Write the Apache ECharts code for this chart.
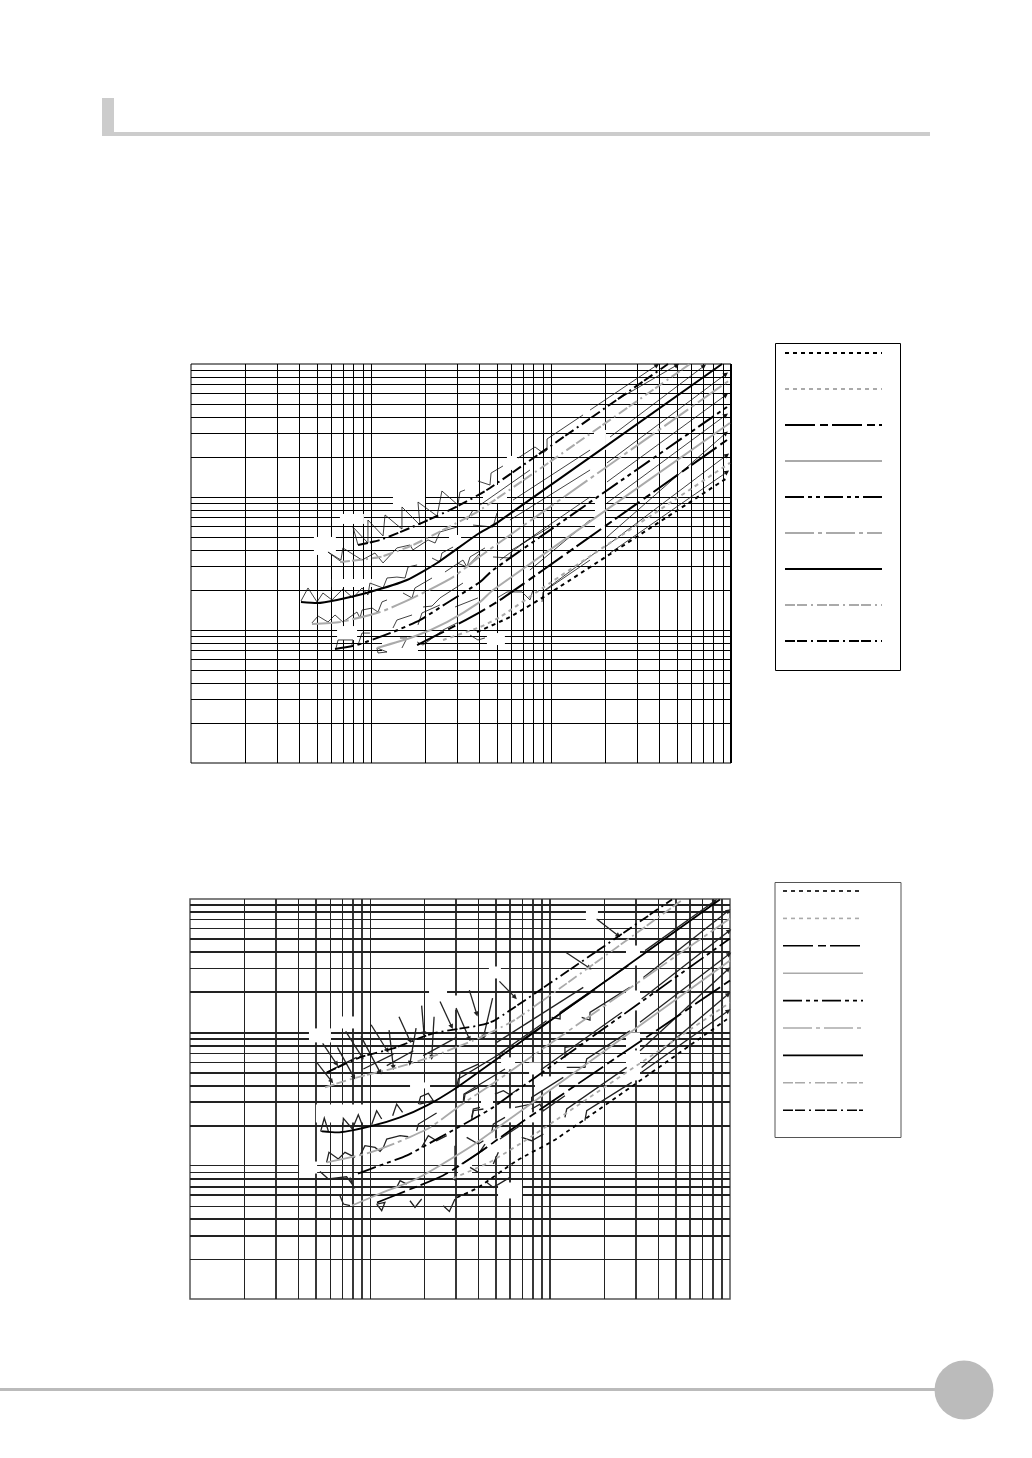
<!DOCTYPE html>
<html><head><meta charset="utf-8">
<style>html,body{margin:0;padding:0;background:#fff}#c{width:1032px;height:1458px}</style>
<script src="https://cdn.jsdelivr.net/npm/echarts@6/dist/echarts.min.js"></script>
</head><body><div id="c"></div>
<script>
// All curve values are [log10 x, log10 y]; both axes span three decades.
const decadeTicks = [2,3,4,5,6,7,8,9,10,20,30,40,50,60,70,80,90,100,200,300,400,500,600,700,800,900];
const thickX2 = [3,5,8,9,30,50,60,80,90,100,300,500,600,800,900];
const thickY2 = [900,800,500,400,200,100,90,80,50,40,30,20,8,7,6,4,3];

// Chart A curves, bottom to top
const a1 = [[1.589,.985],[1.772,1.098],[1.994,1.278],[2.978,2.143]];
const a2 = [[1.4,.925],[1.606,1.023],[1.717,1.098],[1.994,1.353],[2.994,2.256]];
const a3 = [[1.256,.887],[1.422,1.0],[1.606,1.135],[1.717,1.226],[1.956,1.451],[2.978,2.429]];
const a4 = [[1.033,.865],[1.233,.947],[1.422,1.06],[1.606,1.211],[1.678,1.301],[2.994,2.556]];
const a5 = [[.8,.857],[.922,.887],[1.122,.985],[1.272,1.075],[1.422,1.203],[1.606,1.361],[1.678,1.451],[2.978,2.677]];
const a6 = [[.672,1.045],[.828,1.06],[1.05,1.135],[1.233,1.241],[1.456,1.398],[1.594,1.541],[1.678,1.624],[2.994,2.88]];
const a7 = [[.611,1.211],[.7,1.203],[.811,1.226],[.994,1.286],[1.2,1.376],[1.367,1.504],[1.594,1.722],[1.7,1.805],[2.95,3.0]];
const a8 = [[.828,1.511],[1.05,1.549],[1.233,1.639],[1.422,1.767],[1.606,1.902],[2.772,3.0]];
const a9 = [[.928,1.639],[1.05,1.677],[1.217,1.767],[1.367,1.857],[1.494,1.94],[1.661,2.068],[2.65,3.0]];

// Chart B curves, bottom to top
const b1 = [[1.483,.761],[1.6,.836],[1.817,1.039],[2.039,1.204],[2.989,2.104]];
const b2 = [[1.461,.904],[1.6,.986],[1.683,1.039],[1.906,1.227],[3.0,2.224]];
const b3 = [[1.039,.724],[1.206,.814],[1.406,.926],[1.6,1.092],[1.833,1.317],[3.0,2.389]];
const b4 = [[.9,.701],[1.056,.791],[1.239,.889],[1.389,1.002],[1.594,1.174],[3.0,2.539]];
const b5 = [[.933,.941],[1.056,1.002],[1.206,1.077],[1.389,1.212],[1.6,1.37],[1.683,1.437],[3.0,2.704]];
const b6 = [[.761,1.024],[.983,1.092],[1.15,1.174],[1.333,1.287],[1.517,1.467],[1.683,1.617],[3.0,2.854]];
const b7 = [[.733,1.257],[.817,1.249],[1.0,1.294],[1.167,1.362],[1.317,1.452],[1.483,1.587],[1.6,1.699],[2.944,2.997]];
const b8 = [[.75,1.587],[.906,1.654],[1.15,1.737],[1.333,1.812],[1.6,1.954],[1.817,2.104],[2.739,2.997]];
const b9 = [[.761,1.699],[.944,1.812],[1.128,1.879],[1.35,1.992],[1.6,2.05],[1.694,2.09],[2.678,2.997]];

// Thin annotation strokes
const arrowsA = [
[[2.217,2.654],[2.589,2.992]],[[2.383,2.744],[2.7,2.992]],[[2.328,2.451],[2.85,2.985]],
[[2.311,2.256],[2.972,2.925]],[[2.311,2.113],[2.972,2.767]],[[2.311,1.955],[2.972,2.617]],
[[2.311,1.699],[2.972,2.481]],[[2.3,1.624],[2.978,2.316]],[[2.328,1.579],[2.978,2.188]]];
const leadersA = [
[[.928,1.639],[.9,1.774],[.983,1.654],[.983,1.827],[1.067,1.707],[1.078,1.865],[1.172,1.759],[1.172,1.925],[1.272,1.789],[1.261,1.962],[1.367,1.857],[1.394,2.045],[1.483,1.94],[1.494,2.038],[1.522,2.053]],
[[.844,1.504],[.761,1.586],[.833,1.526],[.844,1.617],[.95,1.526],[1.022,1.579],[1.067,1.504],[1.144,1.617],[1.217,1.639],[1.233,1.602],[1.317,1.677],[1.356,1.654],[1.383,1.737],[1.478,1.774]],
[[.611,1.218],[.65,1.316],[.7,1.211],[.733,1.278],[.783,1.226],[.844,1.308],[.9,1.241],[.95,1.316],[.983,1.263],[.994,1.353],[1.067,1.316],[1.089,1.391],[1.144,1.398],[1.189,1.391],[1.206,1.474],[1.256,1.489]],
[[1.339,1.541],[1.383,1.511],[1.394,1.579],[1.456,1.624]],
[[1.411,1.436],[1.511,1.526],[1.533,1.474],[1.606,1.579]],
[[.672,1.053],[.706,1.105],[.761,1.06],[.8,1.113],[.844,1.06],[.922,1.135],[.939,1.09],[.95,1.15],[1.006,1.165],[1.039,1.135],[1.061,1.211],[1.089,1.226]],
[[1.178,1.278],[1.228,1.241],[1.244,1.316],[1.339,1.391]],
[[.806,.865],[.817,.925],[.9,.925],[.894,.887]],
[[.928,.887],[.95,.977],[.994,.977]],
[[1.122,1.015],[1.144,1.075],[1.228,1.113]],
[[1.261,1.038],[1.283,1.128],[1.383,1.188]],
[[1.289,1.173],[1.339,1.18],[1.383,1.241],[1.511,1.353]],
[[1.467,1.173],[1.594,1.241]],
[[1.033,.865],[1.089,.835],[1.039,.827],[1.033,.865]],
[[1.161,.94],[1.2,.94],[1.172,.865]],
[[1.256,.91],[1.289,.887],[1.4,1.0],[1.478,1.053]],
[[1.55,.962],[1.594,.925],[1.633,.94]],
[[1.7,1.241],[1.756,1.286],[1.839,1.286],[1.883,1.226],[1.9,1.301]],
[[1.95,1.211],[1.956,1.286],[2.217,1.526]],
[[1.478,1.504],[1.533,1.474],[1.55,1.549],[1.633,1.617]],
[[1.678,1.549],[1.772,1.541],[1.783,1.602],[1.994,1.774]],
[[1.567,1.789],[1.678,1.774],[1.7,1.88]],
[[1.533,1.827],[1.567,1.902]],
[[1.594,2.12],[1.661,2.09],[1.667,2.18],[1.733,2.233]],
[[1.817,2.293],[1.911,2.376],[1.956,2.331],[1.978,2.353],[1.978,2.436],[2.178,2.617]],
[[1.789,1.977],[2.217,2.353]],[[1.772,1.827],[2.217,2.203]],[[1.828,1.639],[2.217,2.0]],
[[1.883,1.451],[2.217,1.827]],[[1.967,1.301],[2.244,1.579]],[[1.717,1.526],[1.911,1.714]],[[1.606,1.94],[1.883,2.203]]];
const arrowsB = [
[[.704,1.775],[.787,1.632]],[[.737,1.917],[.815,1.762]],[[.819,1.887],[.911,1.662]],[[.865,2.007],[.957,1.812]],
[[.95,1.97],[1.056,1.7]],[[1.006,2.057],[1.096,1.862]],[[1.106,2.017],[1.13,1.737]],[[1.161,2.117],[1.222,1.937]],
[[1.256,2.032],[1.222,1.767]],[[1.287,2.2],[1.3,1.987]],[[1.356,2.117],[1.343,1.812]],[[1.389,2.232],[1.454,2.042]],
[[1.478,2.182],[1.552,1.95]],[[1.552,2.317],[1.593,2.137]],[[1.681,2.257],[1.63,1.962]],[[1.719,2.382],[1.806,2.262]],
[[2.083,2.605],[2.219,2.482]],[[2.259,2.85],[2.38,2.725]],
[[2.528,2.613],[2.917,2.987]],[[2.519,2.412],[2.991,2.912]],[[2.509,2.25],[2.996,2.762]],[[2.5,2.075],[2.996,2.587]],
[[2.5,1.862],[2.991,2.475]],[[2.509,1.737],[2.991,2.287]],[[2.509,1.7],[2.991,2.162]]];
const leadersB = [
[[2.009,2.112],[2.056,2.1],[2.056,2.15],[2.435,2.5]],
[[2.176,2.112],[2.222,2.092],[2.222,2.15],[2.444,2.337]],
[[1.722,1.8],[1.722,1.842],[1.981,2.087]],
[[1.481,1.587],[1.491,1.65],[1.75,1.862]],
[[2.083,1.812],[2.083,1.887],[2.185,1.912]],
[[2.093,1.737],[2.194,1.737],[2.204,1.8],[2.444,2.012]],
[[1.519,1.487],[1.522,1.537],[1.75,1.725]],
[[1.565,1.35],[1.574,1.412],[1.63,1.425]],
[[1.694,1.537],[1.741,1.562],[1.778,1.532],[1.824,1.575]],
[[1.676,1.25],[1.685,1.312],[1.75,1.362]],
[[1.722,1.2],[1.833,1.3]],
[[1.806,1.437],[1.898,1.462],[1.898,1.512],[2.074,1.662]],
[[1.898,1.425],[1.944,1.462],[1.963,1.412],[2.083,1.525]],
[[2.083,1.362],[2.093,1.425],[2.426,1.737]],
[[2.194,1.337],[2.204,1.412],[2.454,1.625]],
[[1.843,1.212],[1.898,1.187],[1.963,1.237]],
[[1.537,1.212],[1.602,1.162],[1.63,1.187]],
[[1.602,1.087],[1.639,1.162]],
[[1.509,1.012],[1.648,1.137]],
[[1.685,1.012],[1.713,1.1]],
[[1.648,.875],[1.685,.837],[1.778,.912],[1.778,.987]],
[[1.472,1.15],[1.472,.887]],
[[.726,1.257],[.746,1.357],[.769,1.257],[.726,1.257]],
[[.848,1.262],[.852,1.355],[.902,1.275],[.935,1.382],[.959,1.3]],
[[1.009,1.307],[1.037,1.412],[1.065,1.35]],
[[1.126,1.375],[1.148,1.462],[1.181,1.4]],
[[1.269,1.462],[1.281,1.517],[1.324,1.542],[1.352,1.487],[1.274,1.462]],
[[.759,1.025],[.772,1.1],[.824,1.05],[.861,1.1],[.917,1.062]],
[[.944,1.075],[.972,1.15],[1.028,1.137],[1.056,1.107],[1.074,1.137],[1.093,1.2],[1.13,1.212],[1.167,1.225],[1.213,1.217]],
[[1.259,1.262],[1.269,1.312],[1.37,1.395]],
[[1.287,1.137],[1.324,1.225],[1.37,1.187],[1.426,1.225]],
[[1.491,1.587],[1.5,1.7],[1.602,1.762]],
[[1.519,1.462],[1.528,1.537],[1.602,1.587]],
[[1.565,1.362],[1.574,1.425],[1.611,1.437]],
[[.722,.957],[.769,.9],[.87,.917],[.907,.85],[.889,.912]],
[[.833,.775],[.852,.712],[.889,.7]],
[[1.037,.712],[1.065,.662],[1.083,.725],[1.037,.712]],
[[1.222,.737],[1.25,.687],[1.287,.75]],
[[1.407,.7],[1.441,.657],[1.472,.75]],
[[1.148,.837],[1.167,.887],[1.204,.862]],
[[1.556,.987],[1.602,.95]],
[[.759,1.7],[.926,1.812]],[[.963,1.725],[1.13,1.837]],[[1.093,1.75],[1.241,1.862]],[[1.296,1.825],[1.481,1.962]],
[[1.704,1.925],[2.185,2.337]],[[1.85,1.95],[2.25,2.32]],[[1.95,1.72],[2.4,2.15]]];

// Blanked patches in the gridwork: [log10 x, log10 y] and their sizes
const masksA = [[1.211,1.977],[.894,1.835],[.744,1.632],[.894,1.353],[.867,.977],[1.161,.872],[1.689,2.023],[1.467,1.669],[2.272,1.872],[2.272,2.429],[1.694,.932],[1.783,2.256]];
const maskSizesA = [[32,20],[24,10],[22,18],[40,8],[20,14],[36,10],[24,18],[12,12],[10,35],[12,20],[18,12],[10,14]];
const masksB = [[.722,1.977],[.861,2.074],[.844,1.392],[.656,.986],[1.378,2.3],[1.278,1.602],[2.233,2.892],[2.461,2.576],[2.461,2.239],[2.461,1.939],[2.461,1.752],[1.983,1.617],[1.778,.814],[1.694,2.449],[1.483,2.224],[1.767,1.767],[1.917,1.729],[1.65,1.489],[1.889,1.362],[1.756,1.377],[1.722,1.137],[1.528,.986]];
const maskSizesB = [[22,14],[26,12],[52,18],[18,12],[18,8],[20,6],[12,14],[14,20],[14,20],[14,16],[14,30],[24,14],[24,16],[12,12],[10,14],[14,12],[12,12],[12,12],[14,10],[10,14],[12,18],[14,16]];

const GRAY = '#aaaaaa', BLACK = '#000000';
const styles = [
 {color:BLACK, dash:[4,4]},
 {color:GRAY,  dash:[4,4]},
 {color:BLACK, dash:[30,5,8,4]},
 {color:GRAY,  dash:'solid'},
 {color:BLACK, dash:[19,4,4,4,4,4]},
 {color:GRAY,  dash:[29,4,4,4]},
 {color:BLACK, dash:'solid'},
 {color:GRAY,  dash:[10,2,10,4,2,4]},
 {color:BLACK, dash:[10,2,10,4,2,4]}
];
const curvesA = [a1,a2,a3,a4,a5,a6,a7,a8,a9];
const curvesB = [b1,b2,b3,b4,b5,b6,b7,b8,b9];

const toVal = p => [Math.pow(10,p[0]), Math.pow(10,p[1])];

function gridSeries(idx, color, thickX, thickY, thin, thick, edge){
  const data = [];
  decadeTicks.forEach(v=>{
    data.push({coords:[[v,1],[v,1000]], lineStyle:{width: thickX.includes(v)?thick:thin, color, opacity:1}});
    data.push({coords:[[1,v],[1000,v]], lineStyle:{width: thickY.includes(v)?thick:thin, color, opacity:1}});
  });
  if(edge) data.push({coords:[[1000,1],[1000,1000]], lineStyle:{width:edge, color, opacity:1}});
  return {type:'lines', coordinateSystem:'cartesian2d', xAxisIndex:idx, yAxisIndex:idx, z:1, silent:true,
    symbol:'none', clip:false, lineStyle:{opacity:1}, data};
}
function maskSeries(idx, masks, sizes){
  return {type:'scatter', xAxisIndex:idx, yAxisIndex:idx, z:2, silent:true, symbol:'rect',
    itemStyle:{color:'#fff',opacity:1}, data:masks.map((m,i)=>({value:toVal(m), symbolSize:sizes[i]}))};
}
function thinSeries(idx, polys, width, color){
  return {type:'lines', coordinateSystem:'cartesian2d', polyline:true, xAxisIndex:idx, yAxisIndex:idx, z:3, silent:true,
    lineStyle:{width, color, opacity:1}, data:polys.map(p=>({coords:p.map(toVal)}))};
}
function arrowSeries(idx, arrows, width, color){
  return {type:'lines', coordinateSystem:'cartesian2d', xAxisIndex:idx, yAxisIndex:idx, z:3, silent:true,
    symbol:['none','triangle'], symbolSize:5, lineStyle:{width, color, opacity:1},
    data:arrows.map(p=>({coords:p.map(toVal)}))};
}
function curveSeries(idx, curves, width){
  return curves.map((c,i)=>({type:'line', xAxisIndex:idx, yAxisIndex:idx, z:5, silent:true,
    showSymbol:false, smooth:0.2, data:c.map(toVal),
    lineStyle:{color:styles[i].color, type:styles[i].dash, width, cap:'butt'}}));
}
function axis(idx,gridIndex){
  return {type:'log', logBase:10, min:1, max:1000, gridIndex,
    axisLine:{show:false}, axisTick:{show:false}, axisLabel:{show:false}, splitLine:{show:false}, minorSplitLine:{show:false}};
}

function legendGraphics(box, firstY, step, x0, x1, borderColor, width){
  const out = [{type:'rect', shape:box, style:{fill:'#fff', stroke:borderColor, lineWidth:1}, z:1}];
  styles.forEach((s,i)=>{
    out.push({type:'line', z:2, shape:{x1:x0,y1:firstY+step*i,x2:x1,y2:firstY+step*i},
      style:{stroke:s.color, lineWidth:width, lineDash:s.dash==='solid'?null:s.dash}});
  });
  return out;
}

const decor = [
 {type:'rect', shape:{x:102,y:98,width:12,height:38}, style:{fill:'#cccccc'}},
 {type:'rect', shape:{x:102,y:132,width:828,height:4}, style:{fill:'#cccccc'}},
 {type:'rect', shape:{x:0,y:1388,width:940,height:3}, style:{fill:'#bbbbbb'}},
 {type:'circle', shape:{cx:964,cy:1390,r:29.5}, style:{fill:'#bbbbbb'}}
];

const chart = echarts.init(document.getElementById('c'), null, {renderer:'canvas', width:1032, height:1458});
chart.setOption({
  animation:false,
  backgroundColor:'#fff',
  grid:[
    {left:191, top:364, width:540, height:399, show:true, borderColor:'#000', borderWidth:1, backgroundColor:'#fff'},
    {left:190, top:899, width:540, height:400, show:true, borderColor:'#555', borderWidth:1.5, backgroundColor:'#fff'}
  ],
  xAxis:[axis(0,0),axis(1,1)],
  yAxis:[axis(0,0),axis(1,1)],
  graphic:{elements:[...decor,
    ...legendGraphics({x:775.5,y:343.5,width:125,height:327},353,36,785,882,'#000',2),
    ...legendGraphics({x:775,y:882.5,width:126,height:255},891,27.4,783,863,'#555',1.6)
  ]},
  series:[
    gridSeries(0,'#000',[],[],1,1,2),
    maskSeries(0,masksA,maskSizesA),
    thinSeries(0,leadersA,0.8,'#111'),
    arrowSeries(0,arrowsA,0.8,'#111'),
    ...curveSeries(0,curvesA,2),
    gridSeries(1,'#222',thickX2,thickY2,1,1.8,0),
    maskSeries(1,masksB,maskSizesB),
    thinSeries(1,leadersB,1.3,'#222'),
    arrowSeries(1,arrowsB,1.3,'#222'),
    ...curveSeries(1,curvesB,1.8)
  ]
});
</script></body></html>
